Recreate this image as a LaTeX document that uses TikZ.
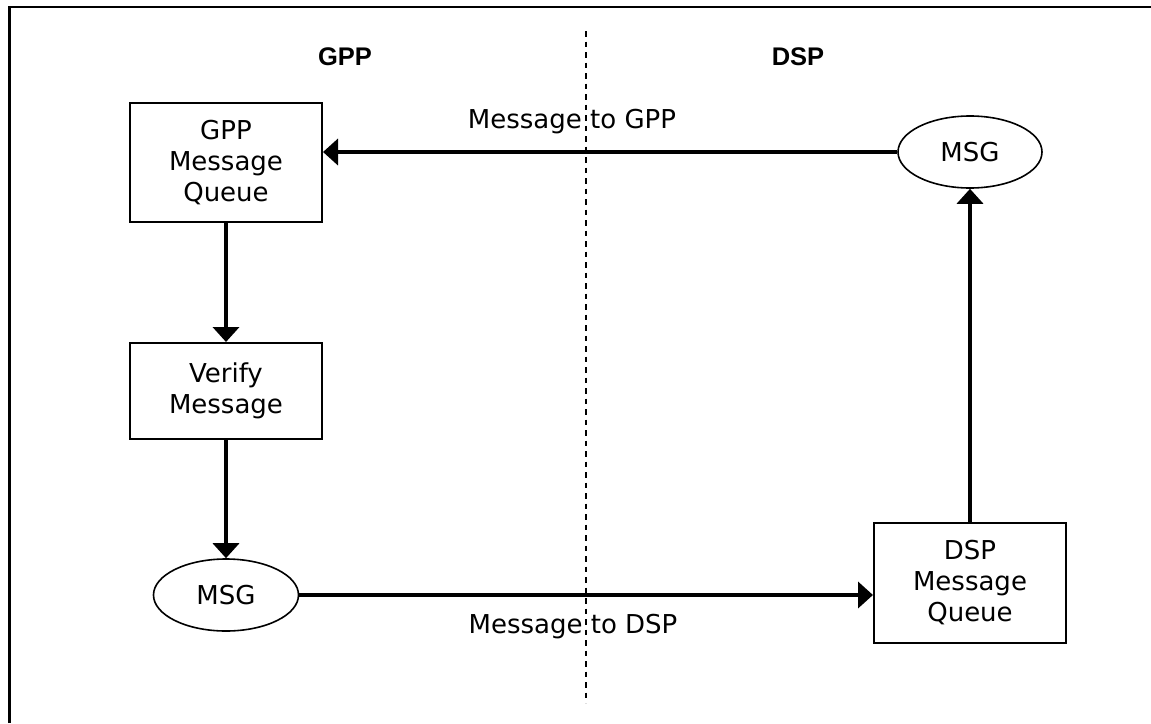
\documentclass[tikz,border=0pt]{standalone}
\usepackage{fontspec}
\setmainfont{DejaVu Sans}
\newfontfamily\titlefont{Liberation Sans}
\usetikzlibrary{arrows.meta,shapes.geometric}
\begin{document}
\begin{tikzpicture}[x=1pt,y=-1pt,
  every node/.style={font=\fontsize{26}{31}\selectfont},
  boxnode/.style={draw,line width=2pt,inner sep=0pt,align=center,minimum width=192pt},
  ellnode/.style={draw,ellipse,line width=1.6pt,inner sep=0pt,minimum width=144pt,minimum height=72pt},
  flow/.style={line width=4.5pt,-{Triangle[length=15pt,width=26pt]}},
  title/.style={font=\titlefont\bfseries\fontsize{25.5}{30}\selectfont,anchor=base},
  lbl/.style={anchor=base}]
\useasboundingbox (0,0) rectangle (1151,723);
\draw[line width=2.5pt] (9.5,723) -- (9.5,7) -- (1151,7);
\coordinate (dtop) at (586,31);
\coordinate (dbot) at (586,703);
\draw[line width=1.6pt,dash pattern=on 5.5pt off 5pt] (dtop) -- (dbot);
\node[title] (tg) at (345,65) {GPP};
\node[title] (td) at (798,65) {DSP};
\node[boxnode,minimum height=119pt] (gq) at (226,162.5) {GPP\\Message\\Queue};
\node[boxnode,minimum height=96pt] (vm) at (226,391) {Verify\\Message};
\node[ellnode,minimum width=145pt] (m2) at (226,595) {MSG};
\node[boxnode,minimum height=120pt] (dq) at (970,583) {DSP\\Message\\Queue};
\node[ellnode] (m1) at (970,152) {MSG};
\node[lbl] (lg) at (572,128) {Message to GPP};
\node[lbl] (ld) at (573,633) {Message to DSP};
\draw[flow] (gq.south) -- (vm.north);
\draw[flow] (vm.south) -- (m2.north);
\draw[flow] (m2.east) -- (m2.east -| dq.west);
\draw[flow] (dq.north) -- (m1.south);
\draw[flow] (m1.west) -- (m1.west -| gq.east);
\end{tikzpicture}
\end{document}
